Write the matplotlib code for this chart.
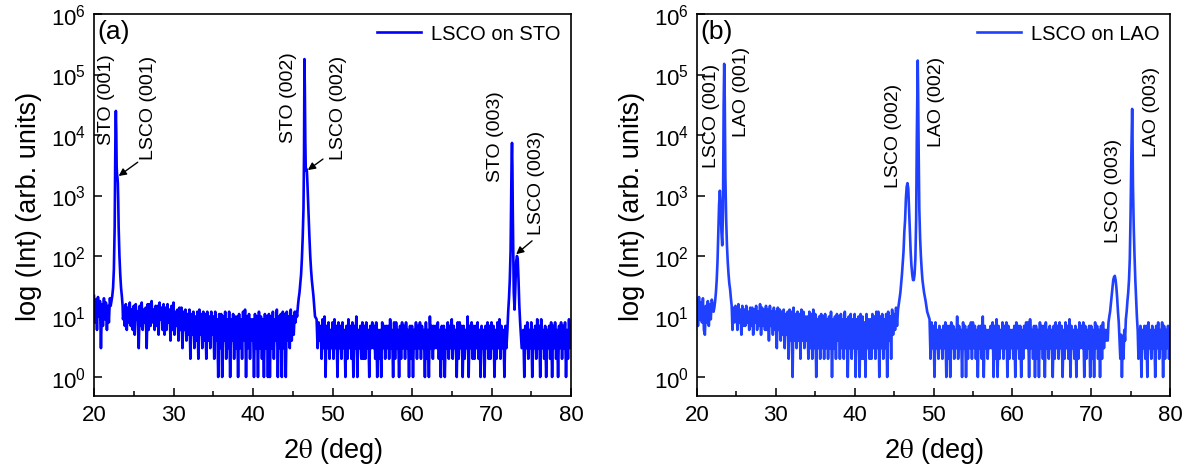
import numpy as np
import matplotlib
matplotlib.use("Agg")
import matplotlib.pyplot as plt
from matplotlib.ticker import FixedLocator, NullLocator, MultipleLocator

plt.rcParams['font.family'] = ['Liberation Sans', 'DejaVu Sans']
plt.rcParams['mathtext.fontset'] = 'stix'

STEP = 0.125  # background sampling step (deg)
Y_TICKS = [1e0, 1e1, 1e2, 1e3, 1e4, 1e5, 1e6]

# ---------------- (a) LSCO on STO ----------------
a_bg1_start = 20.0
a_bg1 = [22, 8, 19, 6, 21, 10, 18, 3,
         16, 7, 20, 9, 17, 6, 15, 8,
         20]
a_bg2_start = 23.75
a_bg2 = [12, 7,
         16, 6, 14, 8, 17, 7, 13, 6,
         15, 5, 16, 9, 12, 3, 15, 7,
         17, 6, 13, 8, 14, 3, 16, 6,
         16, 7, 18, 8, 13, 6, 15, 7,
         15, 5, 17, 9, 14, 6, 16, 5,
         14, 6, 16, 8, 13, 4, 15, 6,
         17, 5, 12, 7, 13, 4, 14, 6,
         14, 3, 12, 6, 13, 4, 11, 5,
         13, 2, 11, 5, 12, 3, 10, 4,
         12, 2, 13, 5, 11, 3, 12, 4,
         11, 2, 12, 4, 10, 3, 12, 5,
         10, 2, 12, 4, 9, 1, 11, 3,
         11, 1, 10, 4, 12, 2, 9, 3,
         12, 1, 9, 4, 11, 2, 10, 3,
         10, 1, 11, 3, 9, 2, 12, 4,
         13, 1, 10, 3, 11, 2, 9, 4,
         9, 1, 11, 3, 10, 1, 12, 3,
         10, 2, 9, 1, 11, 3, 10, 1,
         11, 1, 10, 3, 12, 2, 9, 4,
         13, 1, 10, 3, 11, 1, 12, 3,
         11, 1, 12, 4, 10, 3, 13, 4,
         10, 5, 12]
a_bg3_start = 48.0
a_bg3 = [9, 3, 8, 4, 7, 2, 9, 3,
         10, 1, 7, 3, 8, 2, 6, 3,
         8, 2, 9, 3, 7, 1, 8, 3,
         7, 2, 8, 3, 6, 1, 7, 2,
         9, 3, 7, 2, 8, 1, 7, 3,
         10, 1, 6, 3, 7, 2, 8, 2,
         7, 2, 8, 3, 6, 1, 7, 3,
         8, 3, 7, 2, 8, 1, 6, 2,
         6, 1, 8, 3, 7, 2, 7, 3,
         7, 2, 9, 3, 6, 1, 8, 2,
         8, 3, 6, 1, 7, 2, 8, 3,
         7, 2, 8, 3, 6, 1, 7, 2,
         7, 1, 6, 3, 8, 2, 7, 3,
         8, 2, 7, 3, 6, 1, 8, 2,
         6, 1, 10, 3, 7, 2, 7, 3,
         7, 3, 8, 2, 6, 1, 7, 2,
         7, 1, 6, 3, 8, 2, 7, 3,
         9, 2, 7, 3, 6, 1, 8, 2,
         8, 3, 7, 1, 7, 2, 6, 3,
         10, 1, 7, 3, 8, 2, 7, 2,
         7, 3, 8, 2, 6, 1, 7, 3,
         6, 1, 7, 3, 8, 2, 7, 2,
         8, 3, 7, 1, 6, 2, 8, 3,
         9, 2, 7, 3, 6, 1, 7, 3,
         6]
a_bg4_start = 74.0
a_bg4 = [6, 1, 7, 3, 8, 2, 6, 3,
         8, 1, 6, 3, 7, 2, 9, 3,
         7, 1, 9, 3, 6, 2, 7, 1,
         6, 3, 7, 2, 8, 1, 7, 3,
         8, 2, 6, 1, 7, 3, 8, 2,
         7, 3, 8, 1, 6, 2, 9, 3,
         7]

a_pk1_x = [22.1, 22.2, 22.3, 22.4, 22.5, 22.6, 22.65, 22.7, 22.75, 22.8,
           22.85, 22.9, 22.95, 23.0, 23.05, 23.1, 23.2, 23.3, 23.4, 23.5,
           23.6, 23.65]
a_pk1_y = [15, 18, 22, 30, 60, 300, 2000, 12000, 25000, 12000,
           3000, 2200, 2000, 1600, 800, 300, 100, 50, 30, 22,
           15, 9]
a_pk2_x = [45.35, 45.45, 45.55, 45.65, 45.75, 45.85, 45.95, 46.05, 46.15,
           46.25, 46.35, 46.42, 46.47, 46.52, 46.58, 46.63, 46.68, 46.73,
           46.78, 46.83, 46.9, 47.0, 47.1, 47.2, 47.3, 47.4, 47.5, 47.6,
           47.7, 47.8]
a_pk2_y = [8, 12, 10, 15, 20, 25, 35, 50, 90,
           200, 600, 5000, 180000, 60000, 8000, 3000, 2600, 2700,
           2500, 1800, 1000, 450, 200, 100, 60, 40, 30, 22,
           15, 10]
a_pk3_x = [72.1, 72.2, 72.3, 72.4, 72.48, 72.53, 72.58, 72.63, 72.68,
           72.75, 72.8, 72.9, 73.0, 73.1, 73.2, 73.3, 73.4, 73.5, 73.6,
           73.7, 73.8]
a_pk3_y = [12, 20, 40, 120, 900, 4000, 7400, 3000, 500,
           80, 25, 13, 30, 80, 100, 90, 40, 15, 8,
           5, 3]

# ---------------- (b) LSCO on LAO ----------------
b_bg1_start = 20.0
b_bg1 = [19, 7, 21, 9, 17, 8, 20, 6,
         5, 15, 8, 18, 7, 16, 9, 19,
         15]
b_bg2_start = 24.5
b_bg2 = [6, 14, 8, 15,
         14, 6, 16, 8, 13, 5, 15, 7,
         13, 7, 15, 8, 12, 6, 14, 7,
         14, 5, 13, 8, 15, 6, 12, 7,
         16, 5, 14, 7, 13, 6, 15, 6,
         13, 4, 15, 7, 12, 5, 14, 6,
         12, 3, 14, 6, 13, 4, 12, 5,
         13, 3, 11, 5, 12, 2, 13, 4,
         12, 1, 14, 4, 11, 3, 12, 4,
         11, 2, 13, 4, 12, 3, 10, 4,
         10, 2, 12, 3, 11, 2, 13, 3,
         11, 1, 9, 3, 10, 2, 11, 3,
         10, 2, 11, 3, 9, 2, 10, 3,
         12, 1, 9, 3, 10, 2, 11, 4,
         10, 2, 11, 3, 9, 2, 12, 3,
         9, 1, 10, 3, 11, 2, 9, 3,
         11, 1, 9, 3, 10, 1, 11, 2,
         10, 2, 8, 1, 11, 3, 9, 2,
         9, 2, 11, 3, 10, 2, 12, 3,
         12, 1, 10, 3, 11, 2, 9, 3,
         11, 1, 12, 4, 10, 2, 13, 5,
         11, 6, 14, 7, 13]
b_bg3_start = 49.5
b_bg3 = [9, 2, 8, 3,
         7, 1, 8, 3, 6, 2, 7, 3,
         6, 2, 7, 3, 8, 1, 7, 2,
         7, 1, 8, 3, 7, 2, 6, 3,
         10, 2, 7, 3, 6, 1, 8, 3,
         7, 1, 6, 2, 7, 3, 8, 2,
         8, 3, 7, 2, 6, 1, 7, 3,
         7, 2, 10, 1, 7, 3, 6, 2,
         6, 3, 7, 3, 8, 1, 7, 2,
         9, 1, 7, 2, 6, 3, 8, 2,
         7, 3, 8, 1, 7, 2, 6, 3,
         6, 2, 7, 1, 8, 3, 7, 2,
         7, 1, 6, 2, 7, 3, 8, 3,
         8, 1, 9, 3, 6, 2, 7, 1,
         7, 2, 6, 1, 8, 3, 7, 2,
         7, 1, 8, 3, 6, 2, 7, 3,
         6, 1, 7, 2, 8, 3, 7, 2,
         8, 3, 7, 1, 6, 2, 8, 3,
         7, 2, 9, 1, 7, 3, 6, 2,
         7, 1, 6, 2, 8, 3, 7, 3,
         8, 1, 7, 2, 6, 3, 7, 1,
         7, 2, 6, 1, 8, 3, 7, 2,
         6, 1, 7, 2, 8, 3, 6, 4]
b_bg4_start = 76.25
b_bg4 = [7, 1, 6, 3, 7, 2,
         7, 1, 8, 3, 6, 2, 7, 3,
         6, 1, 7, 3, 8, 2, 6, 3,
         8, 1, 7, 2, 6, 3, 7, 2,
         6]

b_pk1_x = [22.1, 22.2, 22.3, 22.4, 22.5, 22.6, 22.7, 22.8, 22.9, 23.0,
           23.1, 23.2, 23.3, 23.38, 23.45, 23.52, 23.6, 23.7, 23.8, 23.9,
           24.0, 24.1, 24.2, 24.3, 24.4]
b_pk1_y = [12, 14, 18, 25, 40, 80, 250, 700, 1200, 700,
           250, 150, 600, 30000, 150000, 40000, 2000, 400, 150, 80,
           50, 35, 28, 20, 15]
b_pk2_x = [45.6, 45.7, 45.8, 45.9, 46.0, 46.1, 46.2, 46.3, 46.4, 46.5,
           46.6, 46.7, 46.8, 46.9, 47.0, 47.1, 47.2, 47.3, 47.4, 47.5,
           47.6, 47.7, 47.8, 47.88, 47.95, 48.0, 48.05, 48.12, 48.2, 48.3,
           48.4, 48.5, 48.6, 48.8, 49.0, 49.2]
b_pk2_y = [16, 20, 25, 35, 50, 80, 120, 250, 400, 900,
           1400, 1600, 1300, 600, 250, 120, 70, 50, 40, 40,
           50, 90, 400, 8000, 60000, 170000, 50000, 5000, 600, 200,
           100, 60, 40, 25, 18, 12]
b_pk3_x = [72.0, 72.1, 72.2, 72.3, 72.4, 72.5, 72.6, 72.7, 72.8, 72.9,
           73.0, 73.1, 73.2, 73.3, 73.4, 73.5, 73.6, 73.7, 73.8, 73.9,
           74.0, 74.1, 74.2, 74.3, 74.4, 74.5, 74.6, 74.7, 74.8, 74.9,
           75.0, 75.1, 75.2, 75.25, 75.3, 75.4, 75.5, 75.6, 75.7, 75.8,
           75.9, 76.0]
b_pk3_y = [6, 4, 8, 10, 12, 16, 22, 30, 40, 45,
           47, 40, 30, 20, 12, 8, 4, 2, 5, 1,
           4, 2, 6, 4, 9, 12, 18, 25, 40, 90,
           500, 5000, 27000, 9000, 1500, 300, 100, 40, 20, 10,
           6, 2]

# peak labels: (text, 2theta of label centre, intensity at label foot)
a_labels = [("STO (001)", 21.6, 7100), ("LSCO (001)", 26.8, 4000),
            ("STO (002)", 44.5, 7600), ("LSCO (002)", 50.8, 4000),
            ("STO (003)", 70.5, 1740), ("LSCO (003)", 75.7, 231)]
b_labels = [("LSCO (001)", 21.9, 2960), ("LAO (001)", 25.7, 9600),
            ("LSCO (002)", 44.9, 1380), ("LAO (002)", 50.4, 6580),
            ("LSCO (003)", 72.8, 170), ("LAO (003)", 77.7, 4500)]
# arrows in (a): (tail 2theta, tail I, head 2theta, head I)
a_arrows = [(25.5, 3550, 23.1, 2100),
            (48.8, 4000, 46.9, 2630),
            (75.1, 178, 73.1, 107)]


def assemble(bg_parts, peak_parts):
    xs, ys = [], []
    for start, vals in bg_parts:
        xs.append(start + STEP * np.arange(len(vals)))
        ys.append(np.asarray(vals, float))
    for px, py in peak_parts:
        xs.append(np.asarray(px, float))
        ys.append(np.asarray(py, float))
    x = np.concatenate(xs)
    y = np.concatenate(ys)
    order = np.argsort(x)
    return x[order], y[order]


xa, ya = assemble([(a_bg1_start, a_bg1), (a_bg2_start, a_bg2),
                   (a_bg3_start, a_bg3), (a_bg4_start, a_bg4)],
                  [(a_pk1_x, a_pk1_y), (a_pk2_x, a_pk2_y), (a_pk3_x, a_pk3_y)])
xb, yb = assemble([(b_bg1_start, b_bg1), (b_bg2_start, b_bg2),
                   (b_bg3_start, b_bg3), (b_bg4_start, b_bg4)],
                  [(b_pk1_x, b_pk1_y), (b_pk2_x, b_pk2_y), (b_pk3_x, b_pk3_y)])

fig = plt.figure(figsize=(11.92, 4.77), dpi=100)
H = 477.0
W = 1192.0
ax_a = fig.add_axes([94 / W, 1 - 397 / H, 477 / W, 382 / H])
ax_b = fig.add_axes([697 / W, 1 - 397 / H, 473 / W, 382 / H])

panels = [
    (ax_a, xa, ya, '#0000FF', 'LSCO on STO', '(a)', a_labels, a_arrows),
    (ax_b, xb, yb, '#2040FF', 'LSCO on LAO', '(b)', b_labels, []),
]

for ax, x, y, col, name, tag, labels, arrows in panels:
    ax.plot(x, y, color=col, lw=1.9, label=name)
    ax.set_yscale('log')
    ax.set_xlim(20, 80)
    ax.set_ylim(10 ** -0.314, 1e6)
    ax.xaxis.set_major_locator(MultipleLocator(10))
    ax.xaxis.set_minor_locator(MultipleLocator(5))
    ax.yaxis.set_major_locator(FixedLocator(Y_TICKS))
    ax.yaxis.set_minor_locator(NullLocator())
    ax.tick_params(which='major', direction='in', length=6, width=1.1,
                   labelsize=16, pad=6, top=False, right=False)
    ax.tick_params(which='minor', direction='in', length=3.5, width=1.1,
                   top=False, right=False)
    for s in ax.spines.values():
        s.set_linewidth(1.2)
    ax.set_xlabel(r'2$\mathrm{\theta}$ (deg)', fontsize=19.5, labelpad=7)
    ax.set_ylabel('log (Int) (arb. units)', fontsize=19.5, labelpad=6)
    ax.text(0.008, 0.955, tag, transform=ax.transAxes, fontsize=19,
            ha='left', va='center')
    ax.legend(loc='upper right', frameon=False, fontsize=14.5,
              handlelength=2.2, borderaxespad=0.1, handletextpad=0.5)
    for txt, lx, ly in labels:
        ax.text(lx, ly, txt, rotation=90, ha='center', va='bottom',
                fontsize=14)
    for tx, ty, hx, hy in arrows:
        ax.annotate('', xy=(hx, hy), xytext=(tx, ty),
                    arrowprops=dict(arrowstyle='-|>', color='k', lw=1.0,
                                    mutation_scale=11, shrinkA=0, shrinkB=0))

fig.savefig('out.png', dpi=100)
